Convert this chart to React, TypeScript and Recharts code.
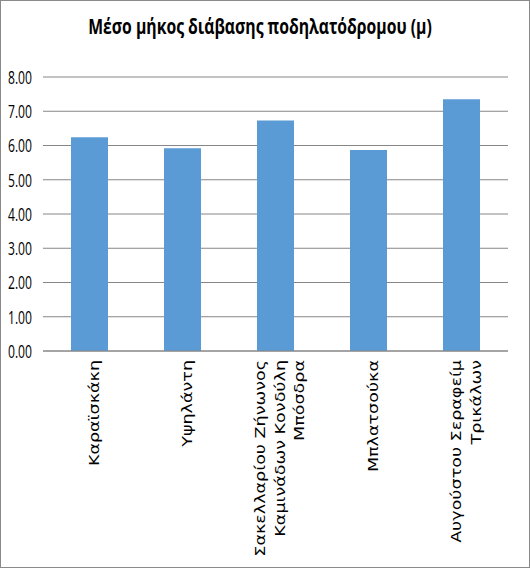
import React from 'react';
import { BarChart, Bar, XAxis, YAxis, CartesianGrid } from 'recharts';

const title = 'Μέσο μήκος διάβασης ποδηλατόδρομου (μ)';
const streets = [
  'Καραϊσκάκη',
  'Υψηλάντη',
  'Σακελλαρίου Ζήνωνος\nΚαμινάδων Κονδύλη\nΜπόσδρα',
  'Μπλατσούκα',
  'Αυγούστου Σεραφείμ\nΤρικάλων',
];
const avgLength = [6.24, 5.92, 6.73, 5.87, 7.35];
const yTicks = [0, 1, 2, 3, 4, 5, 6, 7, 8];

const data = streets.map((name, i) => ({ name, value: avgLength[i] }));

// the source picture is stretched vertically, so the rotated labels are stretched along their length
const StreetTick = (props: any) => {
  const { x, y, payload } = props;
  const lines = String(payload.value).split('\n');
  const lineH = 20;
  const start = -((lines.length - 1) / 2) * lineH;
  return (
    <g transform={`translate(${x + 9},${y + 1}) rotate(-90) scale(1.3,1)`}>
      <text
        textAnchor="end"
        fontFamily="DejaVu Sans, Verdana, sans-serif"
        fontSize={13.5}
        fill="#000"
      >
        {lines.map((l, i) => (
          <tspan key={i} x={0} dy={i === 0 ? start : lineH}>
            {l}
          </tspan>
        ))}
      </text>
    </g>
  );
};

const ValueTick = (props: any) => {
  const { x, y, payload } = props;
  const label = Number(payload.value).toFixed(2);
  return (
    <text
      x={x}
      y={y}
      dy="0.36em"
      textAnchor="end"
      fontFamily="Open Sans, sans-serif"
      fontSize={19}
      fill="#000"
      textLength={24}
      lengthAdjust="spacingAndGlyphs"
    >
      {label}
    </text>
  );
};

export default function App() {
  return (
    <div
      style={{
        position: 'absolute',
        left: 0,
        top: 0,
        width: 530,
        height: 568,
        background: '#fff',
        border: '1px solid #8a8a8a',
        boxSizing: 'border-box',
      }}
    >
      <svg
        width={530}
        height={70}
        style={{ position: 'absolute', left: -1, top: -1 }}
      >
        <g transform="translate(260,34) scale(0.75,1)">
          <text
            x={0}
            y={0}
            textAnchor="middle"
            fontFamily="Open Sans, sans-serif"
            fontWeight="bold"
            fontSize={21}
            fill="#000"
          >
            {title}
          </text>
        </g>
      </svg>
      <div style={{ position: 'absolute', left: -1, top: -1 }}>
        <BarChart
          width={530}
          height={568}
          data={data}
          margin={{ top: 77, right: 22, left: 0, bottom: 0 }}
          barSize={37}
        >
          <CartesianGrid vertical={false} stroke="#868686" strokeWidth={1} />
          <XAxis
            dataKey="name"
            axisLine={{ stroke: '#868686' }}
            tickLine={false}
            interval={0}
            height={217}
            tick={<StreetTick />}
          />
          <YAxis
            domain={[0, 8]}
            ticks={yTicks}
            width={43}
            axisLine={false}
            tickLine={false}
            tickSize={6}
            tickMargin={5}
            tick={<ValueTick />}
          />
          <Bar dataKey="value" fill="#5B9BD5" isAnimationActive={false} />
        </BarChart>
      </div>
    </div>
  );
}
